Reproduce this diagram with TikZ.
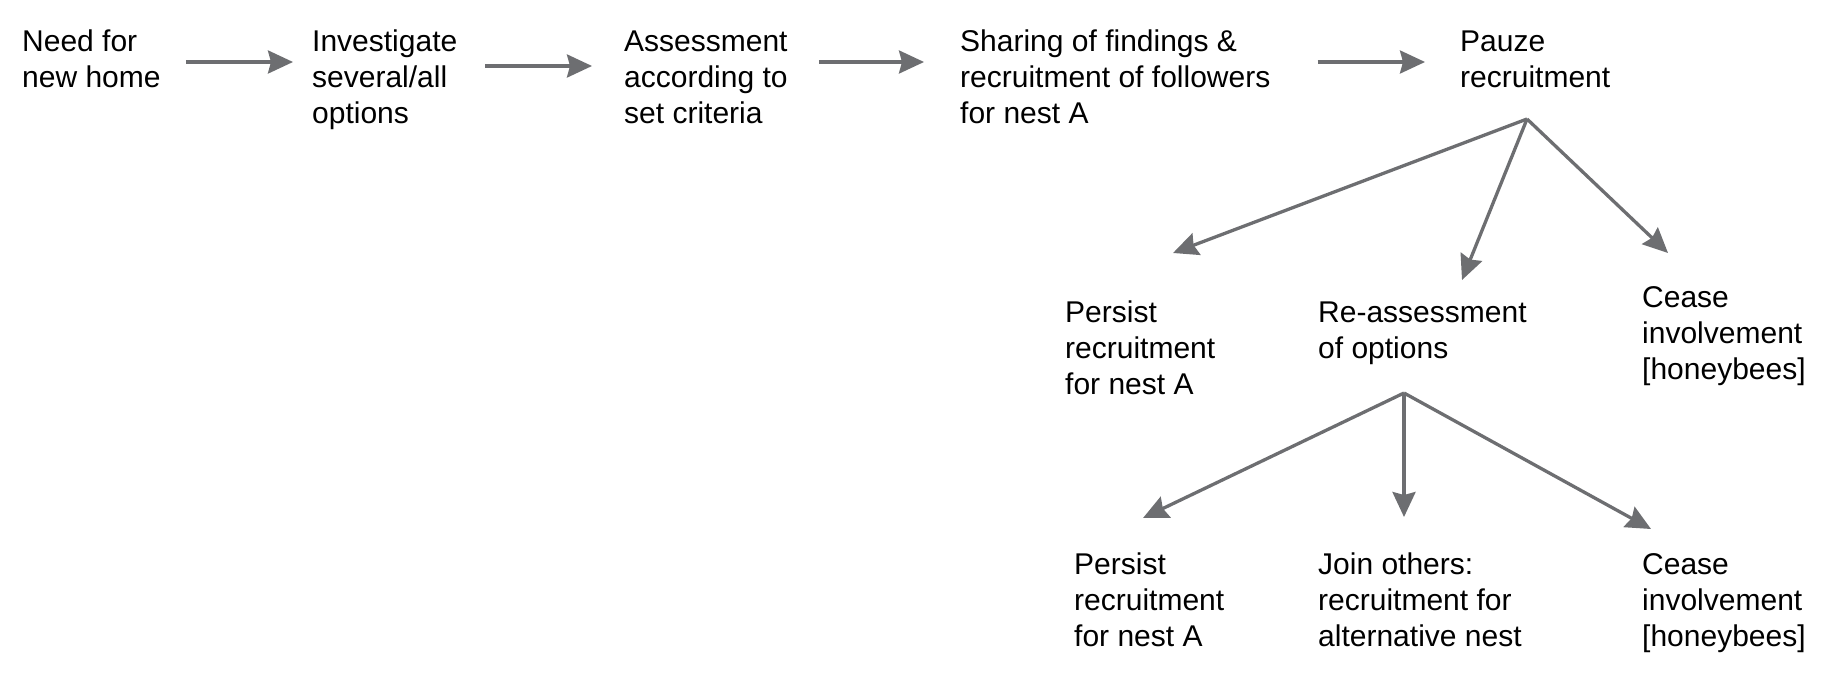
\documentclass[tikz,border=0pt]{standalone}
\usepackage{fontspec}
\setmainfont{Liberation Sans}
\usetikzlibrary{arrows.meta}
\definecolor{arrowgrey}{RGB}{109,110,113}
\tikzset{
	lbl/.style={anchor=base west, align=left, inner sep=0pt, font=\fontsize{30}{36}\selectfont},
	flow/.style={draw=arrowgrey, line width=3.3pt, -{Stealth[length=25pt,width=23pt,inset=3pt]}}
}
\begin{document}
\begin{tikzpicture}[x=1pt,y=-1pt]
				\useasboundingbox (0,0) rectangle (1838,690);
				% top row (base = last line)
				\node[lbl] (need) at (22,87.7) {Need for\\new home};
				\node[lbl] (inv) at (312,123.7) {Investigate\\several/all\\options};
				\node[lbl] (assess) at (624,123.7) {Assessment\\according to\\set criteria};
				\node[lbl] (share) at (960,123.7) {Sharing of findings \&\\recruitment of followers\\for nest A};
				\node[lbl] (pauze) at (1460,87.7) {Pauze\\recruitment};
				\coordinate (row) at (0,62);
				\coordinate (rowb) at (0,66);
				\draw[flow, shorten <=25pt, shorten >=19pt] (need.east |- row) -- (inv.west |- row);
				\draw[flow, shorten <=28pt, shorten >=32pt] (inv.east |- rowb) -- (assess.west |- rowb);
				\draw[flow, shorten <=31pt, shorten >=36pt] (assess.east |- row) -- (share.west |- row);
				\draw[flow, shorten <=47pt, shorten >=35pt] (share.east |- row) -- (pauze.west |- row);
				% second row
				\node[lbl] (pers1) at (1065,394.6) {Persist\\recruitment\\for nest A};
				\node[lbl] (reass) at (1318,358.6) {Re-assessment\\of options};
				\node[lbl] (cease1) at (1642,379) {Cease\\involvement\\{[honeybees]}};
				\coordinate (fork1) at (1527,119);
				\coordinate (pers1-in) at (1173,253);
				\coordinate (reass-in) at (1462,280);
				\coordinate (cease1-in) at (1668,253);
				\draw[flow] (fork1) -- (pers1-in);
				\draw[flow] (fork1) -- (reass-in);
				\draw[flow] (fork1) -- (cease1-in);
				% third row
				\node[lbl] (pers2) at (1074,646) {Persist\\recruitment\\for nest A};
				\node[lbl] (join) at (1318,646) {Join others:\\recruitment for\\alternative nest};
				\node[lbl] (cease2) at (1642,646) {Cease\\involvement\\{[honeybees]}};
				\coordinate (fork2) at (1404,393);
				\coordinate (pers2-in) at (1143,518);
				\coordinate (join-in) at (1404,517);
				\coordinate (cease2-in) at (1651,529);
				\draw[flow] (fork2) -- (pers2-in);
				\draw[flow] (fork2) -- (join-in);
				\draw[flow] (fork2) -- (cease2-in);
\end{tikzpicture}
\end{document}
